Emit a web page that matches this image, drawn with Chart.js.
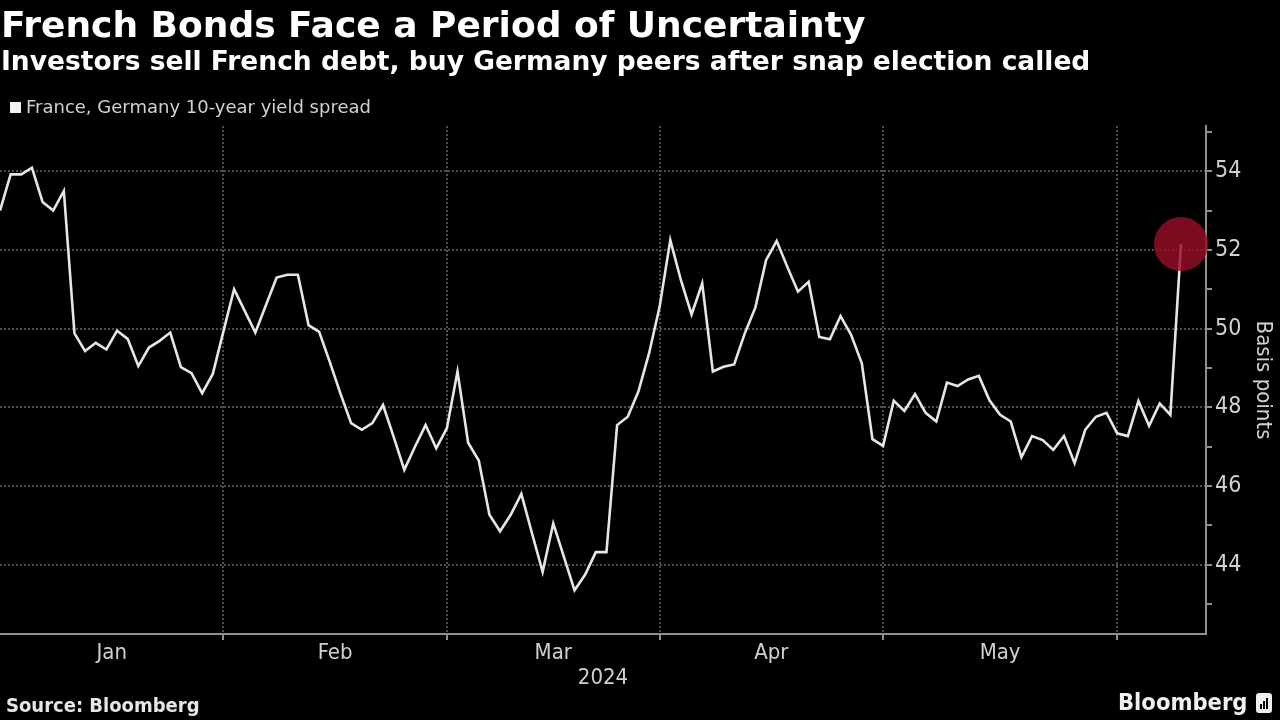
<!DOCTYPE html>
<html><head><meta charset="utf-8">
<script src="https://cdn.jsdelivr.net/npm/chart.js@4.4.1/dist/chart.umd.min.js"></script>
<style>
html,body{margin:0;padding:0;background:#000;width:1280px;height:720px;overflow:hidden;}
#wrap{position:relative;width:1280px;height:720px;}
canvas{position:absolute;left:0;top:0;}
.t{position:absolute;white-space:nowrap;color:#fff;font-family:"DejaVu Sans",sans-serif;line-height:1;}
#title{left:1px;top:7px;font-weight:bold;font-size:36px;}
#sub{left:1px;top:48px;font-weight:bold;font-size:26.5px;}
#legend{left:10px;top:98px;font-size:18px;color:#d2d2d2;}
#legend .sw{display:inline-block;width:11px;height:11px;background:#f2f2f2;margin-right:5px;vertical-align:0px;}
#source{left:6px;top:695px;font-weight:bold;font-size:20px;color:#e6e6e6;font-family:"DejaVu Sans Condensed","DejaVu Sans",sans-serif;}
#logo{left:1118px;top:691px;font-weight:bold;font-size:23.5px;color:#f0f0f0;font-family:"DejaVu Sans Condensed","DejaVu Sans",sans-serif;}
#icon{position:absolute;left:1256px;top:693px;width:16px;height:20px;background:#f0f0f0;border-radius:3px;}
#icon i{position:absolute;bottom:4px;width:2px;background:#000;}
</style></head>
<body><div id="wrap">
<canvas id="c" width="1280" height="720"></canvas>
<div class="t" id="title">French Bonds Face a Period of Uncertainty</div>
<div class="t" id="sub">Investors sell French debt, buy Germany peers after snap election called</div>
<div class="t" id="legend"><span class="sw"></span>France, Germany 10-year yield spread</div>
<div class="t" id="source">Source: Bloomberg</div>
<div class="t" id="logo">Bloomberg</div>
<div id="icon"><i style="left:4px;height:5px"></i><i style="left:7px;height:8px"></i><i style="left:10px;height:11px"></i></div>
</div>
<script>
// ---- data ----
const monthLabels = ['Jan', 'Feb', 'Mar', 'Apr', 'May', 'Jun'];
const tradingDaysPerMonth = [22, 21, 20, 21, 22, 6];
const yearLabel = '2024';
const seriesName = 'France, Germany 10-year yield spread';
const spread = [
  53.0, 53.92, 53.92, 54.09, 53.22, 53.0, 53.5, 49.88, 49.43, 49.64,
  49.47, 49.95, 49.74, 49.05, 49.52, 49.69, 49.9, 49.02, 48.87, 48.36,
  48.85, 49.93, 51.0, 50.45, 49.9, 50.6, 51.3, 51.37, 51.37, 50.09,
  49.92, 49.15, 48.35, 47.6, 47.43, 47.6, 48.06, 47.25, 46.41, 47.0,
  47.55, 46.96, 47.47, 48.91, 47.1, 46.65, 45.27, 44.85, 45.27, 45.8,
  44.8, 43.82, 45.05, 44.2, 43.35, 43.75, 44.32, 44.32, 47.55, 47.76,
  48.4, 49.37, 50.56, 52.25, 51.23, 50.36, 51.15, 48.91, 49.03, 49.09,
  49.88, 50.54, 51.74, 52.23, 51.57, 50.94, 51.19, 49.79, 49.73, 50.32,
  49.84, 49.12, 47.19, 47.02, 48.17, 47.91, 48.34, 47.86, 47.64, 48.63,
  48.54, 48.71, 48.8, 48.18, 47.81, 47.64, 46.73, 47.27, 47.17, 46.92,
  47.27, 46.58, 47.43, 47.76, 47.86, 47.34, 47.27, 48.16, 47.53, 48.1,
  47.81, 52.15
];
const yTickValues = [43, 44, 45, 46, 47, 48, 49, 50, 51, 52, 53, 54, 55];
const yLabelled = [44, 46, 48, 50, 52, 54];
const yAxisTitle = 'Basis points';

// ---- derived ----
const boundaries = [];
let cum = 0;
for (let m = 0; m < tradingDaysPerMonth.length - 1; m++) {
  cum += tradingDaysPerMonth[m];
  boundaries.push(cum - 1);
}
const labelTicks = [];
for (let m = 0; m < boundaries.length; m++) {
  const start = m === 0 ? 0 : boundaries[m - 1];
  labelTicks.push({ value: (start + boundaries[m]) / 2, label: monthLabels[m] });
}
const points = spread.map((v, i) => ({ x: i, y: v }));
const last = spread.length - 1;

const FONT = '"DejaVu Sans Condensed","DejaVu Sans",sans-serif';
const GRID = '#4d4d4d';
const AXIS = '#8f8f8f';
const TXT = '#d0d0d0';

function zeroPad(s) { s.paddingLeft = 0; s.paddingRight = 0; s.paddingTop = 0; s.paddingBottom = 0; }

new Chart(document.getElementById('c'), {
  type: 'line',
  data: {
    datasets: [
      {
        label: 'highlight',
        data: [{ x: last, y: spread[last] }],
        showLine: false,
        pointRadius: 27,
        pointBackgroundColor: 'rgba(150,14,38,0.82)',
        pointBorderWidth: 0,
        clip: false,
        order: 0
      },
      {
        label: seriesName,
        data: points,
        borderColor: '#e6e6e6',
        borderWidth: 2.6,
        pointRadius: 0,
        tension: 0,
        order: 1
      }
    ]
  },
  options: {
    responsive: false,
    animation: false,
    devicePixelRatio: 1,
    layout: { autoPadding: false, padding: { top: 126, left: 0, right: 0, bottom: 0 } },
    plugins: { legend: { display: false }, tooltip: { enabled: false } },
    scales: {
      x: {
        type: 'linear',
        position: 'bottom',
        min: 0,
        max: 113.35,
        afterBuildTicks: s => {
          const t = boundaries.map(v => ({ value: v })).concat(labelTicks.map(l => ({ value: l.value })));
          t.sort((a, b) => a.value - b.value);
          s.ticks = t;
        },
        afterFit: s => { s.height = 86; zeroPad(s); },
        ticks: {
          autoSkip: false,
          maxRotation: 0,
          color: TXT,
          padding: 0,
          font: { family: FONT, size: 22 },
          callback: v => { const l = labelTicks.find(o => o.value === v); return l ? l.label : ''; }
        },
        grid: {
          color: c => (c.tick && boundaries.includes(c.tick.value)) ? GRID : 'rgba(0,0,0,0)',
          lineWidth: 2,
          borderDash: [2, 2],
          tickLength: 6,
          tickWidth: 2,
          tickColor: c => (c.tick && boundaries.includes(c.tick.value)) ? AXIS : 'rgba(0,0,0,0)'
        },
        border: { display: true, color: AXIS, width: 2, dash: [2, 2] },
        title: { display: true, text: yearLabel, color: TXT, font: { family: FONT, size: 22 }, padding: { top: 0, bottom: 29 } }
      },
      y: {
        type: 'linear',
        position: 'right',
        min: 42.24,
        max: 55.15,
        afterBuildTicks: s => { s.ticks = yTickValues.map(v => ({ value: v })); },
        afterFit: s => { s.width = 74; zeroPad(s); },
        ticks: {
          color: TXT,
          padding: 3,
          font: { family: FONT, size: 23 },
          callback: v => yLabelled.includes(v) ? String(v) : ''
        },
        grid: {
          color: c => (c.tick && yLabelled.includes(c.tick.value)) ? GRID : 'rgba(0,0,0,0)',
          lineWidth: 2,
          borderDash: [2, 2],
          tickLength: 6,
          tickWidth: 2,
          tickColor: AXIS
        },
        border: { display: true, color: AXIS, width: 2, dash: [2, 2] },
        title: { display: true, text: yAxisTitle, color: TXT, font: { family: FONT, size: 22 }, padding: { top: 4, bottom: 0 } }
      }
    }
  }
});
</script>
</body></html>
